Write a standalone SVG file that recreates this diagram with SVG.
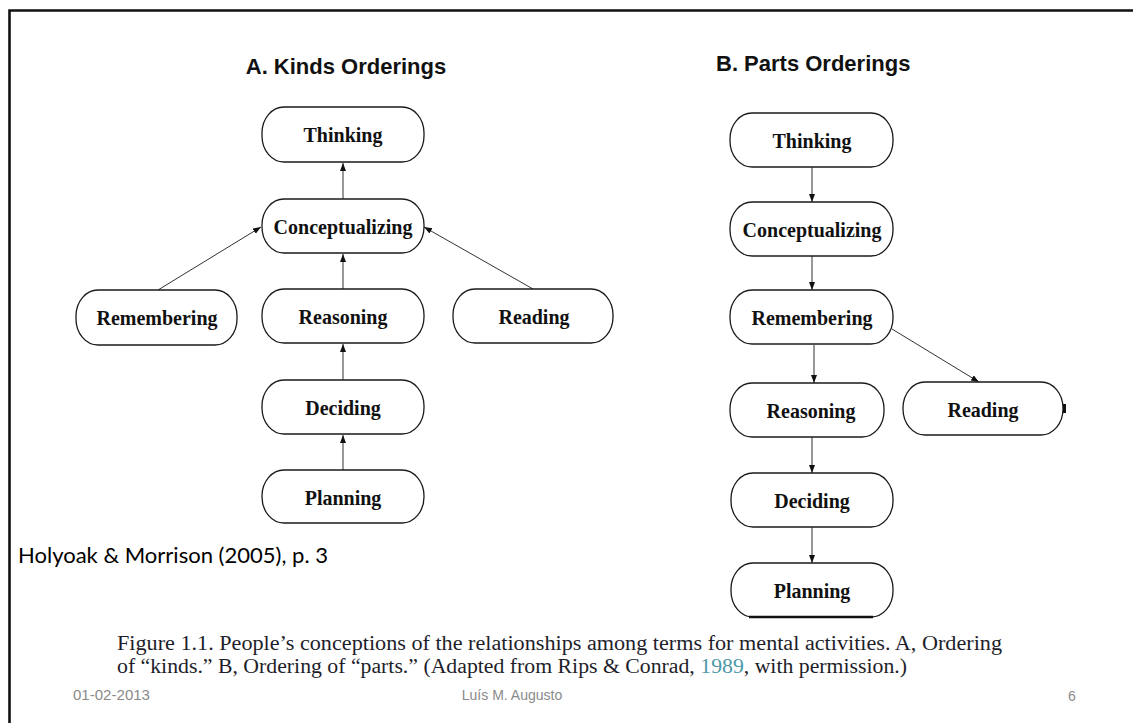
<svg xmlns="http://www.w3.org/2000/svg" width="1133" height="723" viewBox="0 0 1133 723">
<style>
.node{fill:#fff;stroke:#1a1a1a;stroke-width:1.3}
.lbl{font-family:"Liberation Serif","Times New Roman",serif;font-weight:bold;font-size:20px;fill:#111;text-anchor:middle}
.title{font-family:"Liberation Sans",Arial,sans-serif;font-weight:bold;font-size:22px;fill:#111}
.edge{stroke:#333;stroke-width:1;fill:none;marker-end:url(#ah)}
.cap{font-family:"Liberation Serif","Times New Roman",serif;font-size:20px;fill:#1e1e2a}
.foot{font-family:"Liberation Sans",Arial,sans-serif;font-size:14px;fill:#8a8a8a}
</style>
<defs>
<marker id="ah" markerUnits="userSpaceOnUse" markerWidth="9" markerHeight="7" refX="8" refY="3" orient="auto">
<path d="M0,0 L8,3 L0,6 z" fill="#111"/>
</marker>
</defs>
<rect x="0" y="0" width="1133" height="723" fill="#fff"/>
<path d="M9.5,723 V10.5 H1133" fill="none" stroke="#111" stroke-width="2.6"/>

<text class="title" x="346" y="74" text-anchor="middle">A. Kinds Orderings</text>
<text class="title" x="716" y="71">B. Parts Orderings</text>

<g id="connectors">
<line class="edge" x1="343" y1="199" x2="343" y2="163"/>
<line class="edge" x1="343" y1="289" x2="343" y2="254"/>
<line class="edge" x1="343" y1="380" x2="343" y2="344"/>
<line class="edge" x1="343" y1="470" x2="343" y2="435"/>
<line class="edge" x1="158" y1="290" x2="261" y2="227"/>
<line class="edge" x1="533" y1="289" x2="424" y2="227"/>
<line class="edge" x1="812" y1="167" x2="812" y2="202"/>
<line class="edge" x1="812" y1="256" x2="812" y2="290"/>
<line class="edge" x1="814" y1="345" x2="814" y2="383"/>
<line class="edge" x1="892" y1="329" x2="979" y2="382"/>
<line class="edge" x1="812" y1="437" x2="812" y2="473"/>
<line class="edge" x1="812" y1="527" x2="812" y2="563"/>
</g>

<g id="a-thinking"><rect class="node" x="262" y="107" width="162" height="55" rx="22" ry="26"/><text class="lbl" transform="translate(343,142) scale(1,1.1)">Thinking</text></g>
<g id="a-conceptualizing"><rect class="node" x="262" y="199" width="162" height="54" rx="22" ry="26"/><text class="lbl" transform="translate(343,234) scale(1,1.1)">Conceptualizing</text></g>
<g id="a-remembering"><rect class="node" x="76" y="290" width="161" height="55" rx="22" ry="26"/><text class="lbl" transform="translate(157,325) scale(1,1.1)">Remembering</text></g>
<g id="a-reasoning"><rect class="node" x="262" y="289" width="162" height="54" rx="22" ry="26"/><text class="lbl" transform="translate(343,324) scale(1,1.1)">Reasoning</text></g>
<g id="a-reading"><rect class="node" x="453" y="289" width="160" height="54" rx="22" ry="26"/><text class="lbl" transform="translate(534,324) scale(1,1.1)">Reading</text></g>
<g id="a-deciding"><rect class="node" x="262" y="380" width="162" height="54" rx="22" ry="26"/><text class="lbl" transform="translate(343,415) scale(1,1.1)">Deciding</text></g>
<g id="a-planning"><rect class="node" x="262" y="470" width="162" height="53" rx="22" ry="26"/><text class="lbl" transform="translate(343,505) scale(1,1.1)">Planning</text></g>

<g id="b-thinking"><rect class="node" x="730" y="113" width="163" height="54" rx="22" ry="26"/><text class="lbl" transform="translate(812,148) scale(1,1.1)">Thinking</text></g>
<g id="b-conceptualizing"><rect class="node" x="730" y="202" width="163" height="54" rx="22" ry="26"/><text class="lbl" transform="translate(812,237) scale(1,1.1)">Conceptualizing</text></g>
<g id="b-remembering"><rect class="node" x="730" y="290" width="163" height="54" rx="22" ry="26"/><text class="lbl" transform="translate(812,325) scale(1,1.1)">Remembering</text></g>
<g id="b-reasoning"><rect class="node" x="730" y="383" width="154" height="54" rx="22" ry="26"/><text class="lbl" transform="translate(811,418) scale(1,1.1)">Reasoning</text></g>
<g id="b-reading"><rect class="node" x="903" y="382" width="160" height="53" rx="22" ry="26"/><text class="lbl" transform="translate(983,417) scale(1,1.1)">Reading</text><rect x="1063" y="404" width="3" height="9" fill="#111"/></g>
<g id="b-deciding"><rect class="node" x="731" y="473" width="162" height="54" rx="22" ry="26"/><text class="lbl" transform="translate(812,508) scale(1,1.1)">Deciding</text></g>
<g id="b-planning"><rect class="node" x="731" y="563" width="162" height="54" rx="22" ry="26"/><text class="lbl" transform="translate(812,598) scale(1,1.1)">Planning</text><line x1="749" y1="617" x2="873" y2="617" stroke="#111" stroke-width="2.4"/></g>

<text x="18" y="563" font-family="Lato,'Liberation Sans',sans-serif" font-size="21" fill="#000" textLength="310" lengthAdjust="spacingAndGlyphs">Holyoak &amp; Morrison (2005), p. 3</text>

<text class="cap" x="117" y="650" textLength="885" lengthAdjust="spacingAndGlyphs">Figure 1.1.  People’s conceptions of the relationships among terms for mental activities. A, Ordering</text>
<text class="cap" x="117" y="673" textLength="790" lengthAdjust="spacingAndGlyphs">of “kinds.” B, Ordering of “parts.” (Adapted from Rips &amp; Conrad, <tspan fill="#4d9aa8">1989</tspan>, with permission.)</text>

<text class="foot" x="73" y="700" textLength="77" lengthAdjust="spacingAndGlyphs">01-02-2013</text>
<text class="foot" x="512" y="700" text-anchor="middle">Luís M. Augusto</text>
<text class="foot" x="1068" y="701">6</text>
</svg>
